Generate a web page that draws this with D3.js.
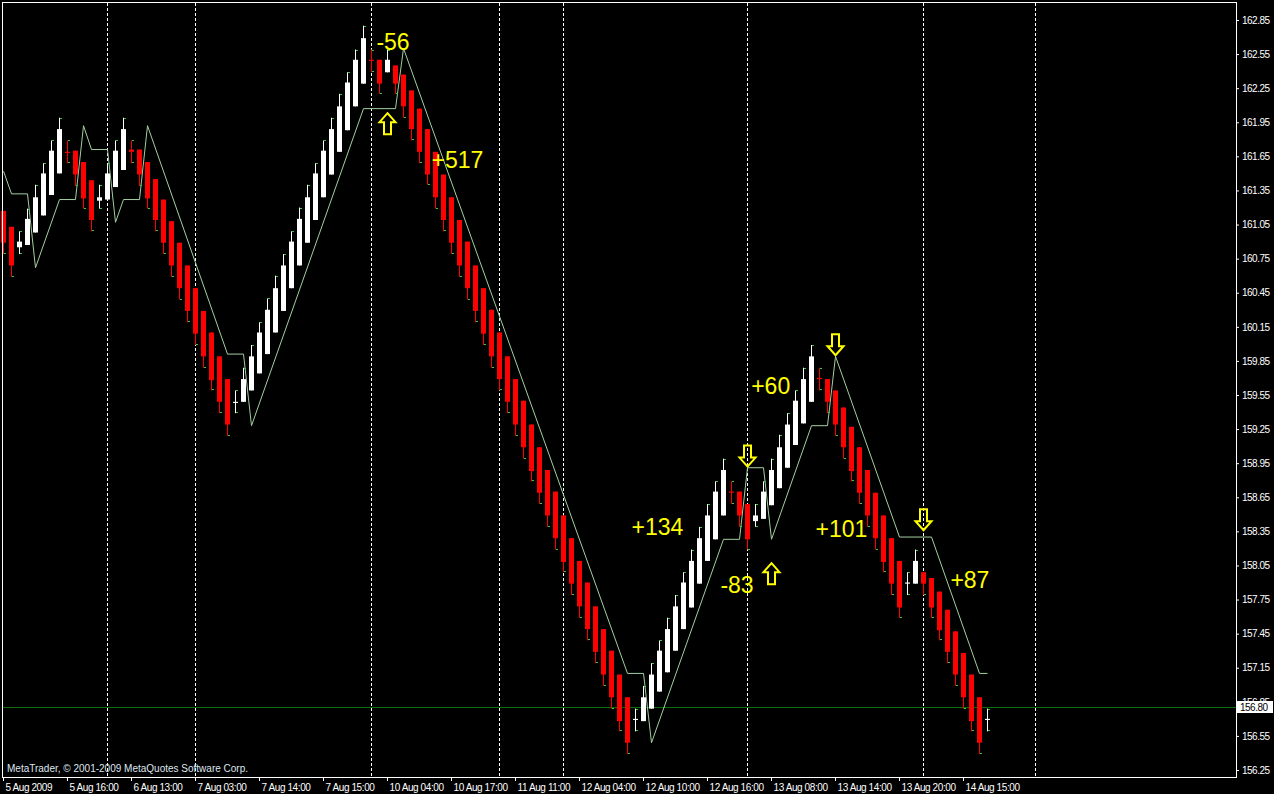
<!DOCTYPE html>
<html><head><meta charset="utf-8">
<script src="https://cdn.jsdelivr.net/npm/d3@7"></script>
<style>
html,body{margin:0;padding:0;background:#000;}
svg{display:block;}
</style></head>
<body>
<script>
// ---- data ----
const opens = [161.17,161.03,160.85,160.87,160.98,161.13,161.31,161.50,161.69,161.70,161.60,161.44,161.26,161.27,161.38,161.53,161.71,161.71,161.60,161.45,
161.27,161.08,160.89,160.69,160.49,160.29,160.10,159.89,159.69,159.48,159.49,159.59,159.74,159.91,160.10,160.29,160.49,160.69,160.89,161.09,
161.29,161.49,161.69,161.88,162.09,162.29,162.50,162.50,162.39,162.45,162.37,162.23,162.07,161.89,161.69,161.49,161.29,161.09,160.90,160.69,
160.49,160.30,160.10,159.89,159.69,159.50,159.29,159.09,158.89,158.70,158.49,158.29,158.09,157.90,157.69,157.49,157.30,157.09,156.89,156.69,
156.68,156.79,156.94,157.11,157.30,157.49,157.68,157.89,158.09,158.28,158.49,158.70,158.70,158.59,158.44,158.46,158.58,158.73,158.91,159.11,
159.30,159.49,159.70,159.69,159.59,159.44,159.27,159.09,158.89,158.69,158.49,158.29,158.09,157.89,157.89,157.99,157.94,157.82,157.66,157.47,
157.28,157.09,156.89,156.69];
const highs = [161.17,161.03,160.99,161.19,161.40,161.59,161.79,161.99,161.79,161.70,161.60,161.44,161.40,161.59,161.79,161.99,161.79,161.71,161.60,161.45,
161.27,161.08,160.89,160.69,160.49,160.29,160.10,159.89,159.69,159.59,159.79,159.99,160.19,160.40,160.60,160.79,160.99,161.20,161.40,161.59,
161.79,161.99,162.20,162.39,162.59,162.80,162.59,162.50,162.59,162.45,162.37,162.23,162.07,161.89,161.69,161.49,161.29,161.09,160.90,160.69,
160.49,160.30,160.10,159.89,159.69,159.50,159.29,159.09,158.89,158.70,158.49,158.29,158.09,157.90,157.69,157.49,157.30,157.09,156.89,156.79,
156.99,157.19,157.39,157.59,157.79,157.99,158.19,158.39,158.59,158.79,158.99,158.79,158.70,158.59,158.59,158.79,158.99,159.20,159.39,159.59,
159.79,159.99,159.79,159.69,159.59,159.44,159.27,159.09,158.89,158.69,158.49,158.29,158.09,157.99,158.19,157.99,157.94,157.82,157.66,157.47,
157.28,157.09,156.89,156.79];
const lows = [160.79,160.59,160.79,160.87,160.98,161.13,161.31,161.50,161.59,161.39,161.19,160.99,161.19,161.27,161.38,161.53,161.59,161.39,161.19,160.99,
160.79,160.59,160.39,160.19,159.99,159.79,159.59,159.39,159.19,159.39,159.49,159.59,159.74,159.91,160.10,160.29,160.49,160.69,160.89,161.09,
161.29,161.49,161.69,161.88,162.09,162.29,162.39,162.20,162.39,162.20,161.99,161.79,161.59,161.40,161.19,160.99,160.79,160.59,160.39,160.19,
159.99,159.79,159.59,159.39,159.19,158.99,158.79,158.59,158.39,158.19,157.99,157.79,157.59,157.39,157.19,156.99,156.79,156.59,156.39,156.59,
156.68,156.79,156.94,157.11,157.30,157.49,157.68,157.89,158.09,158.28,158.49,158.59,158.39,158.19,158.39,158.46,158.58,158.73,158.91,159.11,
159.30,159.49,159.59,159.39,159.19,158.99,158.79,158.59,158.39,158.19,157.99,157.79,157.59,157.79,157.89,157.79,157.59,157.39,157.19,156.99,
156.79,156.59,156.39,156.59];
const closes = [160.89,160.69,160.90,161.10,161.29,161.50,161.70,161.89,161.68,161.49,161.28,161.09,161.29,161.50,161.70,161.89,161.69,161.49,161.28,161.09,
160.89,160.69,160.49,160.29,160.09,159.89,159.68,159.49,159.29,159.49,159.69,159.89,160.10,160.30,160.49,160.69,160.90,161.10,161.29,161.50,
161.70,161.89,162.09,162.30,162.50,162.69,162.49,162.29,162.50,162.29,162.09,161.89,161.69,161.49,161.29,161.09,160.89,160.69,160.49,160.29,
160.09,159.89,159.69,159.49,159.29,159.09,158.88,158.69,158.49,158.29,158.08,157.89,157.69,157.49,157.29,157.09,156.89,156.68,156.49,156.70,
156.89,157.09,157.30,157.49,157.69,157.90,158.09,158.29,158.49,158.70,158.89,158.69,158.49,158.28,158.49,158.70,158.89,159.09,159.29,159.50,
159.69,159.89,159.69,159.49,159.29,159.09,158.88,158.69,158.49,158.29,158.08,157.89,157.68,157.90,158.09,157.89,157.68,157.48,157.29,157.09,
156.89,156.68,156.49,156.70];

// trailing line vertices (bar index, price)
const lineIdx = [0,1,3,4,7,9,10,11,13,14,15,17,18,28,30,31,45,49,50,78,80,81,90,92,93,95,96,101,103,104,112,116,122,123];
const lineVal = [161.52,161.32,161.32,160.67,161.27,161.27,161.92,161.71,161.71,161.07,161.27,161.27,161.92,159.91,159.91,159.28,162.07,162.07,162.60,157.10,
157.10,156.49,158.28,158.28,158.91,158.91,158.28,159.28,159.28,159.89,158.30,158.30,157.10,157.10];

const yTicks = [162.85,162.55,162.25,161.95,161.65,161.35,161.05,160.75,160.45,160.15,159.85,159.55,159.25,158.95,158.65,158.35,158.05,157.75,157.45,157.15,156.85,156.55,156.25];
const xTickIdx = [0,8,16,24,32,40,48,56,64,72,80,88,96,104,112,120];
const xTickLabels = ["5 Aug 2009","5 Aug 16:00","6 Aug 13:00","7 Aug 03:00","7 Aug 14:00","7 Aug 15:00","10 Aug 04:00","10 Aug 17:00","11 Aug 11:00","12 Aug 04:00","12 Aug 10:00","12 Aug 16:00","13 Aug 08:00","13 Aug 14:00","13 Aug 20:00","14 Aug 15:00"];
const separatorIdx = [13,24,46,62,70,93,115,129];
const currentPrice = 156.80;

const noteText = ["-56","+517","+134","-83","+60","+101","+87"];
const noteIdx = [46.8,53.7,78.7,89.8,93.65,101.7,118.55];
const notePrice = [162.59,161.55,158.32,157.81,159.56,158.30,157.85];

const arrowDir = ["up","down","up","down","down"];
const arrowIdx = [48,93,96,104,115];
const arrowPrice = [162.03,158.92,158.07,159.90,158.36];

// ---- chart ----
const W = 1274, H = 794;
const svg = d3.select("body").append("svg").attr("width", W).attr("height", H)
  .style("background", "#000");

const x = d3.scaleLinear().domain([0, 154]).range([3, 1235]);
const y = d3.scaleLinear().domain([156.25, 162.85]).range([770, 20]);

const plotL = 2, plotT = 2, plotR = 1236, plotB = 777;

// separators
svg.append("g").selectAll("line").data(separatorIdx).join("line")
  .attr("x1", d => x(d) + 0.5).attr("x2", d => x(d) + 0.5)
  .attr("y1", plotT + 1).attr("y2", plotB)
  .attr("stroke", "#fff").attr("stroke-width", 1).attr("stroke-dasharray", "3,2");

// current price line
svg.append("line").attr("x1", plotL).attr("x2", plotR)
  .attr("y1", Math.round(y(currentPrice)) + 0.5).attr("y2", Math.round(y(currentPrice)) + 0.5)
  .attr("stroke", "#0a6e0a").attr("stroke-width", 1);

// trailing line
const linePts = lineIdx.map((d, i) => [x(d) + 0.5, y(lineVal[i])]);
svg.append("path").attr("d", d3.line()(linePts))
  .attr("fill", "none").attr("stroke", "#a3cfa0").attr("stroke-width", 1);

// candles
const bars = opens.map((o, i) => ({i, o, h: highs[i], l: lows[i], c: closes[i]}));
const gC = svg.append("g");
bars.forEach(b => {
  const xc = Math.round(x(b.i));
  const up = b.c >= b.o;
  const col = up ? "#ffffff" : "#ff0000";
  const top = y(Math.max(b.o, b.c)), bot = y(Math.min(b.o, b.c));
  gC.append("line").attr("x1", xc + 0.5).attr("x2", xc + 0.5)
    .attr("y1", y(b.h)).attr("y2", y(b.l)).attr("stroke", col).attr("stroke-width", 1);
  gC.append("rect").attr("x", xc - 2).attr("width", 5)
    .attr("y", top).attr("height", Math.max(1, bot - top)).attr("fill", col);
  if (b.h > Math.max(b.o, b.c) + 0.001) {
    gC.append("line").attr("x1", xc + 1).attr("x2", xc + 3)
      .attr("y1", Math.round(y(b.h)) + 0.5).attr("y2", Math.round(y(b.h)) + 0.5)
      .attr("stroke", "#33cc33").attr("stroke-width", 1);
  }
  if (b.l < Math.min(b.o, b.c) - 0.001) {
    gC.append("line").attr("x1", xc + 1).attr("x2", xc + 3)
      .attr("y1", Math.round(y(b.l)) - 0.5).attr("y2", Math.round(y(b.l)) - 0.5)
      .attr("stroke", "#33cc33").attr("stroke-width", 1);
  }
});

// arrows
function arrowPath(cx, ty, dir) {
  const s = dir === "up" ? 1 : -1;
  const hw = 8, hh = 9, sw = 3.5, th = 21;
  const p = [[0,0],[hw,hh],[sw,hh],[sw,th],[-sw,th],[-sw,hh],[-hw,hh]];
  return "M" + p.map(q => [cx + q[0], ty + s * q[1]].join(",")).join("L") + "Z";
}
svg.append("g").selectAll("path").data(arrowIdx).join("path")
  .attr("d", (d, i) => arrowPath(x(d) + 0.5, y(arrowPrice[i]), arrowDir[i]))
  .attr("fill", "none").attr("stroke", "#ffff00").attr("stroke-width", 2)
  .attr("stroke-linejoin", "miter");

// notes
svg.append("g").selectAll("text").data(noteText).join("text")
  .attr("x", (d, i) => x(noteIdx[i]) - 1).attr("y", (d, i) => y(notePrice[i]))
  .attr("fill", "#ffff00").attr("font-family", "Liberation Sans, Arial, sans-serif")
  .attr("font-size", 23).text(d => d);

// frame
svg.append("rect").attr("x", plotL + 0.5).attr("y", plotT + 0.5)
  .attr("width", plotR - plotL).attr("height", plotB - plotT)
  .attr("fill", "none").attr("stroke", "#fff").attr("stroke-width", 1);

// y axis
const yAxis = d3.axisRight(y).tickValues(yTicks).tickFormat(d3.format(".2f"))
  .tickSize(3).tickSizeOuter(0).tickPadding(3);
const gy = svg.append("g").attr("transform", `translate(${plotR},0)`).call(yAxis);
gy.select(".domain").remove();
gy.selectAll("line").attr("stroke", "#fff");
gy.selectAll("text").attr("fill", "#fff").attr("font-family", "Liberation Sans, Arial, sans-serif")
  .attr("font-size", 10).attr("letter-spacing", "-0.5px");

// x axis
const xAxis = d3.axisBottom(x).tickValues(xTickIdx).tickFormat((d, i) => xTickLabels[i])
  .tickSize(4).tickSizeOuter(0);
const gx = svg.append("g").attr("transform", `translate(0,${plotB})`).call(xAxis);
gx.select(".domain").remove();
gx.selectAll("line").attr("stroke", "#fff");
gx.selectAll("text").attr("fill", "#fff").attr("font-family", "Liberation Sans, Arial, sans-serif")
  .attr("font-size", 10).attr("letter-spacing", "-0.4px")
  .attr("text-anchor", "start").attr("x", 2).attr("y", 14).attr("dy", 0);

// current price box
const cpY = Math.round(y(currentPrice));
svg.append("rect").attr("x", plotR + 1).attr("y", cpY - 6).attr("width", 36).attr("height", 12).attr("fill", "#fff");
svg.append("text").attr("x", plotR + 4).attr("y", cpY + 4).attr("fill", "#000")
  .attr("font-family", "Liberation Sans, Arial, sans-serif").attr("font-size", 10)
  .attr("letter-spacing", "-0.5px").text(d3.format(".2f")(currentPrice));

// watermark
svg.append("text").attr("x", 7).attr("y", 772).attr("fill", "#dfe6ef")
  .attr("font-family", "Liberation Sans, Arial, sans-serif").attr("font-size", 10)
  .text("MetaTrader, © 2001-2009 MetaQuotes Software Corp.");
</script>
</body></html>
